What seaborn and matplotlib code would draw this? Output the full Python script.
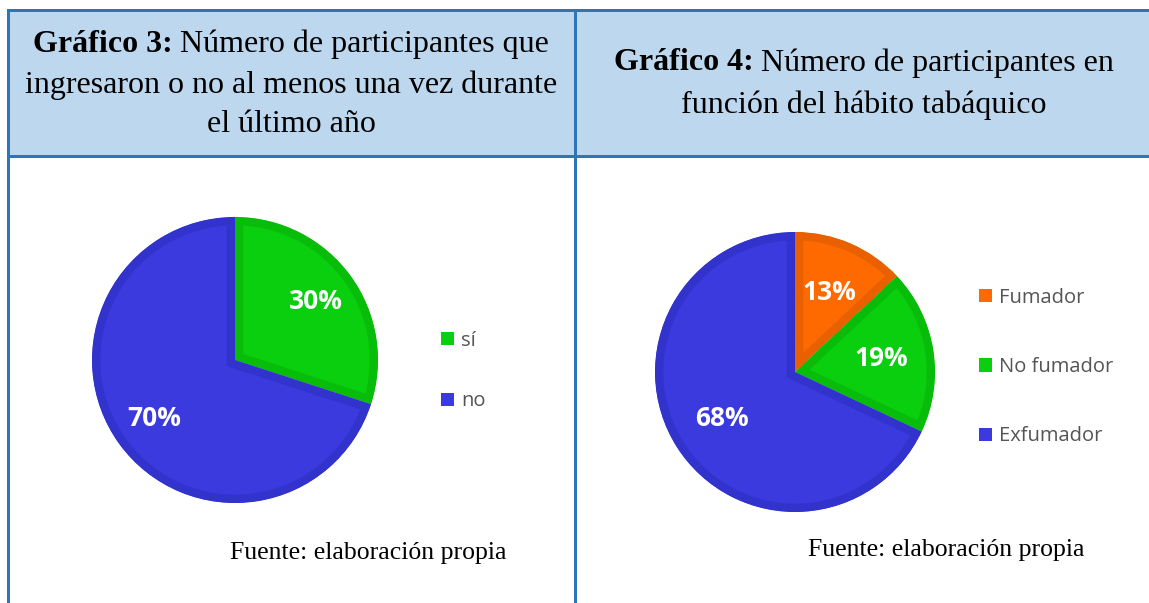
import matplotlib
matplotlib.use("Agg")
import matplotlib.pyplot as plt
from matplotlib.patches import Rectangle
import seaborn as sns

sns.set_theme(style="white")

# data
ingreso_labels = ["sí", "no"]
ingreso_pct = [30, 70]
tabaco_labels = ["Fumador", "No fumador", "Exfumador"]
tabaco_pct = [13, 19, 68]

# colours
blue = "#3a3ade"
green = "#0acf0e"
orange = "#ff6a00"
edge = {blue: "#3232cc", green: "#08bd0a", orange: "#e86000"}
border = "#2e75b6"
header_bg = "#bdd7ee"

W, H = 1149, 603
fig = plt.figure(figsize=(W / 100, H / 100), dpi=100)
bg = fig.add_axes([0, 0, 1, 1])
bg.set_xlim(0, W)
bg.set_ylim(H, 0)
bg.axis("off")

# table cells
bg.add_patch(Rectangle((9, 10), W - 9, 147, facecolor=header_bg, edgecolor="none"))
bg.add_patch(Rectangle((7, 9), W - 7, 3, facecolor=border, edgecolor="none"))
bg.add_patch(Rectangle((7, 155), W - 7, 3, facecolor=border, edgecolor="none"))
bg.add_patch(Rectangle((7, 9), 3, H - 9, facecolor=border, edgecolor="none"))
bg.add_patch(Rectangle((574, 9), 3, H - 9, facecolor=border, edgecolor="none"))

serif = "Liberation Serif"
title_fs = 23


def header_line(cx, y, bold, rest):
    t1 = bg.text(0, y, bold, fontsize=title_fs, family=serif, weight="bold",
                 va="center", ha="left", color="black")
    t2 = bg.text(0, y, rest, fontsize=title_fs, family=serif,
                 va="center", ha="left", color="black")
    return t1, t2


lines = []
lines.append((291, 44, "Gráfico 3:", " Número de participantes que"))
lines.append((291, 85, "", "ingresaron o no al menos una vez durante"))
lines.append((291, 125, "", "el último año"))
lines.append((864, 63, "Gráfico 4:", " Número de participantes en"))
lines.append((864, 105, "", "función del hábito tabáquico"))

made = [(cx, header_line(cx, y, b, r)) for cx, y, b, r in lines]
fig.canvas.draw()
r = fig.canvas.get_renderer()
for cx, (t1, t2) in made:
    w1 = t1.get_window_extent(r).width if t1.get_text() else 0
    w2 = t2.get_window_extent(r).width
    x0 = cx - (w1 + w2) / 2
    t1.set_x(x0)
    t2.set_x(x0 + w1)

bg.text(368, 553, "Fuente: elaboración propia", fontsize=18.5, family=serif,
        ha="center", va="center", color="black")
bg.text(946, 550, "Fuente: elaboración propia", fontsize=18.5, family=serif,
        ha="center", va="center", color="black")


def draw_pie(cx, cy, rad, values, labels, colors, pctdist, leg_x, leg_y, spacing):
    ax = fig.add_axes([(cx - rad) / W, (H - cy - rad) / H, 2 * rad / W, 2 * rad / H])
    wedges, _, autotexts = ax.pie(values, colors=colors, startangle=90, counterclock=False,
                                  autopct="%1.0f%%", pctdistance=pctdist, radius=1,
                                  wedgeprops=dict(linewidth=0))
    # darker inner border: thick edge clipped to the wedge itself
    for w, c in zip(wedges, colors):
        w.set_edgecolor(edge[c])
        w.set_linewidth(12)
        w.set_clip_on(True)
        w.set_clip_path(w)
    for t in autotexts:
        t.set_color("white")
        t.set_fontsize(19)
        t.set_fontweight("bold")
        t.set_family("Open Sans")
    ax.set_xlim(-1, 1)
    ax.set_ylim(-1, 1)
    ax.set_aspect("equal")
    ax.axis("off")
    handles = [Rectangle((0, 0), 1, 1, facecolor=c, edgecolor="none") for c in colors]
    leg = fig.legend(handles, labels, loc="center left", bbox_to_anchor=(leg_x / W, 1 - leg_y / H),
                     frameon=False, handlelength=0.65, handleheight=0.65,
                     handletextpad=0.35, labelspacing=spacing, borderpad=0, borderaxespad=0,
                     prop=dict(family="Open Sans", size=14.5))
    for t in leg.get_texts():
        t.set_color("#555555")
    return ax


draw_pie(235, 360, 143, ingreso_pct, ingreso_labels, [green, blue], 0.7, 441, 371, 2.02)
draw_pie(795, 372, 140, tabaco_pct, tabaco_labels, [orange, green, blue], 0.62, 979, 367, 2.45)

fig.savefig("out.png", dpi=100)
